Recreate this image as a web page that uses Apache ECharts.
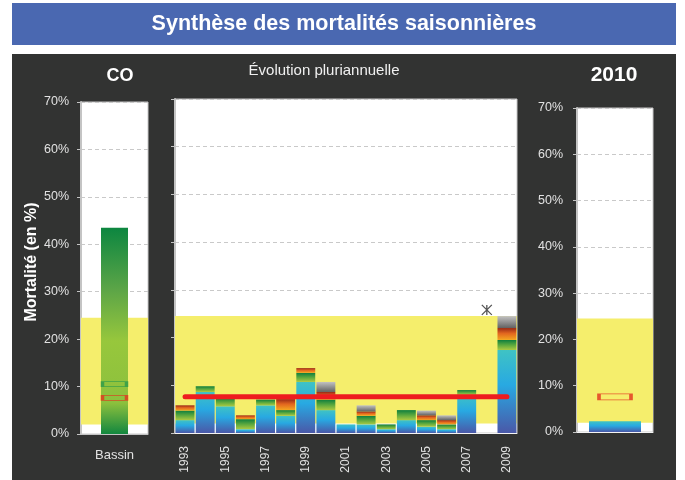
<!DOCTYPE html>
<html>
<head>
<meta charset="utf-8">
<script src="https://cdn.jsdelivr.net/npm/echarts@6/dist/echarts.min.js"></script>
<style>
  html, body { margin: 0; padding: 0; background: #ffffff; }
  #wrap { position: relative; width: 685px; height: 480px; overflow: hidden; }
  #bandeau { position: absolute; left: 12px; top: 3px; width: 664px; height: 42px; background: #4a68b1; }
  #fond { position: absolute; left: 12px; top: 54px; width: 664px; height: 426px; background: #323332; }
  #chart { position: absolute; left: 0; top: 0; width: 685px; height: 480px; }
</style>
</head>
<body>
<div id="wrap">
  <div id="bandeau"></div>
  <div id="fond"></div>
  <div id="chart"></div>
</div>
<script>
// ---- Données ----
const annees = ['1993','1994','1995','1996','1997','1998','1999','2000','2001',
                '2002','2003','2004','2005','2006','2007','2008','2009'];
// Mortalité par tranche empilée (en %), année 2008 sans donnée
const trancheBleue  = [2.7, 8.6, 5.6, 0.8, 5.8, 3.6, 10.7, 4.8, 1.8, 1.8, 0.8, 2.7, 1.3, 0.8, 8.0, null, 17.4];
const trancheVerte  = [2.0, 1.2, 1.8, 2.1, 1.2, 1.2, 1.9, 2.2, 0, 1.8, 1.0, 2.1, 1.4, 1.0, 1.0, null, 2.1];
const trancheOrange = [1.1, 0, 0, 0.8, 0, 2.3, 1.0, 1.6, 0, 0.9, 0, 0, 1.0, 0.9, 0, null, 2.5];
const trancheGrise  = [0, 0, 0, 0, 0, 0, 0, 2.1, 0, 1.3, 0, 0, 1.0, 1.0, 0, null, 2.5];
const moyenne = 7.6;            // moyenne pluriannuelle
const etoile2008 = 25.8;        // repère 2008
const bassin = ['Bassin'];
const valeurBassin = 43.5;
const repereVertBassin = 10.5;
const saison = ['2010'];
const valeur2010 = 2.3;
const bandeBasse = 2;           // bande de référence (en %)
const bandeHaute = 24.5;
const ticksY = { min: 0, max: 70, interval: 10 };

// ---- Styles ----
const G = echarts.graphic.LinearGradient;
const gradBleu   = new G(0, 0, 0, 1, [{offset: 0, color: '#3fc3c4'}, {offset: 0.42, color: '#28a9e2'}, {offset: 1, color: '#4a58a8'}]);
const gradVert   = new G(0, 0, 0, 1, [{offset: 0, color: '#0e7e3e'}, {offset: 0.5, color: '#5aa83e'}, {offset: 1, color: '#aac942'}]);
const gradOrange = new G(0, 0, 0, 1, [{offset: 0, color: '#982816'}, {offset: 0.45, color: '#e2661f'}, {offset: 1, color: '#f4a620'}]);
const gradGris   = new G(0, 0, 0, 1, [{offset: 0, color: '#c2c2c2'}, {offset: 1, color: '#626262'}]);
const gradBassin = new G(0, 0, 0, 1, [
  {offset: 0, color: '#0c8640'}, {offset: 0.3, color: '#5ca547'}, {offset: 0.55, color: '#97c73c'},
  {offset: 0.85, color: '#8cc03d'}, {offset: 1, color: '#12873f'}]);

const FONT = '"Liberation Sans", Arial, sans-serif';
const labelCol = '#e2e2e2';
const axisCol = '#c4c4c4';

function yAxe(grid, showLabels, marge) {
  return {
    type: 'value', gridIndex: grid, min: ticksY.min, max: ticksY.max, interval: ticksY.interval,
    axisLine: { show: true, lineStyle: { color: axisCol, width: 2 } },
    axisTick: { show: true, length: 4, lineStyle: { color: axisCol } },
    splitLine: { show: true, lineStyle: { color: '#c9c9c9', type: [4, 3], width: 1 } },
    axisLabel: { show: showLabels, formatter: '{value}%', color: labelCol, fontSize: 12.5, fontFamily: FONT, margin: marge }
  };
}
function bande(xi, yi) {
  return {
    type: 'line', xAxisIndex: xi, yAxisIndex: yi, data: [], silent: true, z: 1,
    markArea: { silent: true, itemStyle: { color: '#f5ee6c', opacity: 1 },
      data: [[{ yAxis: bandeBasse }, { yAxis: bandeHaute }]] }
  };
}
function pile(nom, data, grad) {
  return { name: nom, type: 'bar', xAxisIndex: 1, yAxisIndex: 1, stack: 'annee',
    data: data, barCategoryGap: '6%', itemStyle: { color: grad }, z: 3 };
}
function cadre(val, xi, cat, col, taille) {
  return { type: 'scatter', xAxisIndex: xi, yAxisIndex: xi, symbol: 'rect', symbolSize: taille,
    data: [[cat, val]], z: 6, silent: true,
    itemStyle: { color: 'rgba(0,0,0,0)', borderColor: col, borderWidth: 1.6 } };
}
function texte(x, y, t, font, fill, rot) {
  return { type: 'text', x: x, y: y, rotation: rot || 0, silent: true,
    style: { text: t, fill: fill, font: font, align: 'center', verticalAlign: 'middle',
             textAlign: 'center', textVerticalAlign: 'middle' } };
}

const chart = echarts.init(document.getElementById('chart'), null, { renderer: 'canvas' });
chart.setOption({
  animation: false,
  backgroundColor: 'transparent',
  textStyle: { fontFamily: FONT },
  graphic: [
    texte(344, 24, 'Synthèse des mortalités saisonnières', 'bold 21.5px ' + FONT, '#ffffff'),
    texte(120, 76, 'CO', 'bold 18px ' + FONT, '#ffffff'),
    texte(324, 71, 'Évolution pluriannuelle', '15px ' + FONT, '#f0f0f0'),
    texte(614, 75, '2010', 'bold 21px ' + FONT, '#ffffff'),
    texte(32, 262, 'Mortalité (en %)', 'bold 16px ' + FONT, '#ffffff', Math.PI / 2)
  ],
  grid: [
    { left: 81, top: 102, width: 67, height: 332, show: true, backgroundColor: '#ffffff', borderColor: '#c8c8c8', borderWidth: 1 },
    { left: 175, top: 99, width: 342, height: 334, show: true, backgroundColor: '#ffffff', borderColor: '#c8c8c8', borderWidth: 1 },
    { left: 577, top: 108, width: 76, height: 324, show: true, backgroundColor: '#ffffff', borderColor: '#c8c8c8', borderWidth: 1 }
  ],
  xAxis: [
    { type: 'category', gridIndex: 0, data: bassin,
      axisLine: { lineStyle: { color: axisCol, width: 1 } },
      axisTick: { length: 4, lineStyle: { color: axisCol } },
      axisLabel: { color: labelCol, fontSize: 13, fontFamily: FONT, margin: 15 } },
    { type: 'category', gridIndex: 1, data: annees,
      axisLine: { lineStyle: { color: '#f4f4f4', width: 1 } },
      axisTick: { interval: 0, length: 4, lineStyle: { color: axisCol } },
      axisLabel: { interval: 1, rotate: 90, color: labelCol, fontSize: 12, fontFamily: FONT, margin: 13 } },
    { type: 'category', gridIndex: 2, data: saison,
      axisLine: { lineStyle: { color: '#f4f4f4', width: 1 } },
      axisTick: { show: false }, axisLabel: { show: false } }
  ],
  yAxis: [
    yAxe(0, true, 12),
    yAxe(1, false, 12),
    yAxe(2, true, 14)
  ],
  series: [
    // Bassin
    bande(0, 0),
    { type: 'bar', xAxisIndex: 0, yAxisIndex: 0, data: [valeurBassin], barWidth: 27, itemStyle: { color: gradBassin }, z: 3 },
    cadre(repereVertBassin, 0, 'Bassin', '#2c9a4a', [24, 5]),
    cadre(moyenne, 0, 'Bassin', '#e2321e', [24, 5]),
    // Évolution pluriannuelle
    bande(1, 1),
    pile('bleu', trancheBleue, gradBleu),
    pile('vert', trancheVerte, gradVert),
    pile('orange', trancheOrange, gradOrange),
    pile('gris', trancheGrise, gradGris),
    { name: 'moyenne', type: 'line', xAxisIndex: 1, yAxisIndex: 1, data: annees.map(() => moyenne),
      symbol: 'none', z: 8, silent: true,
      lineStyle: { color: '#ee1c1f', width: 5, cap: 'round' } },
    { type: 'scatter', xAxisIndex: 1, yAxisIndex: 1, data: [['2008', etoile2008]], z: 9, silent: true,
      symbol: 'path://M0,0L10,10M10,0L0,10M5,0L5,10', symbolSize: 10,
      itemStyle: { color: 'none', borderColor: '#2a2a2a', borderWidth: 1.3 } },
    // 2010
    bande(2, 2),
    { type: 'bar', xAxisIndex: 2, yAxisIndex: 2, data: [valeur2010], barWidth: 52, itemStyle: { color: gradBleu }, z: 3 },
    cadre(moyenne, 2, '2010', '#e2321e', [32, 6])
  ]
});
</script>
</body>
</html>
